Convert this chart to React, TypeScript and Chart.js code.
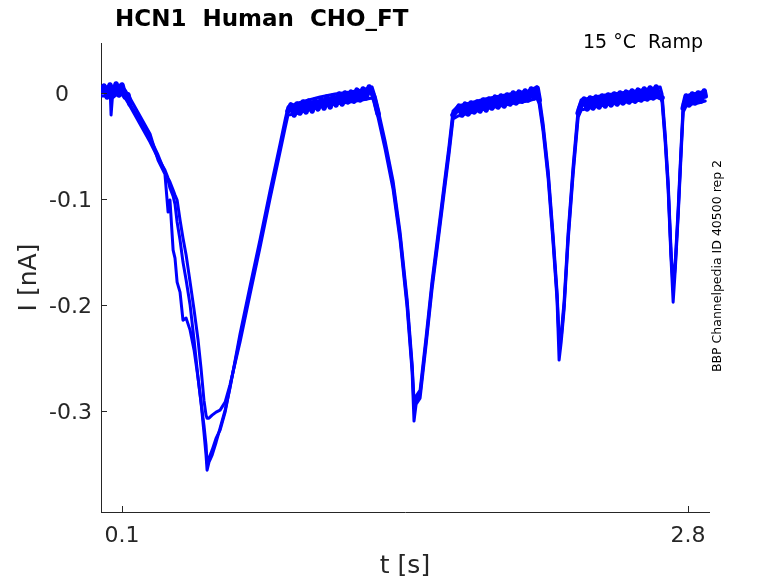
import React, { useEffect, useRef } from "react";
import { Chart, registerables } from "chart.js";

Chart.register(...registerables);

// time [s] for sweeps 1 and 3
const timesAC = [
  0.000, 0.024, 0.043, 0.048, 0.057, 0.091, 0.115, 0.138, 0.186, 0.234,
  0.272, 0.305, 0.320, 0.329, 0.344, 0.353, 0.363, 0.377, 0.391, 0.406,
  0.425, 0.444, 0.463, 0.477, 0.491, 0.501, 0.506, 0.515, 0.530, 0.549,
  0.568, 0.592, 0.615, 0.663, 0.711, 0.759, 0.806, 0.854, 0.878, 0.892,
  0.926, 0.973, 1.045, 1.116, 1.188, 1.245, 1.293, 1.302, 1.322, 1.355,
  1.393, 1.427, 1.460, 1.484, 1.493, 1.503, 1.522, 1.551, 1.579, 1.608,
  1.636, 1.660, 1.679, 1.703, 1.760, 1.832, 1.904, 1.975, 2.037, 2.080,
  2.090, 2.109, 2.133, 2.156, 2.175, 2.185, 2.195, 2.209, 2.228, 2.252,
  2.276, 2.290, 2.333, 2.405, 2.476, 2.548, 2.610, 2.667, 2.676, 2.691,
  2.705, 2.719, 2.729, 2.739, 2.753, 2.767, 2.777, 2.791, 2.820, 2.848,
  2.882,
];

// current [nA], sweep 1
const currentA = [
  0.0047, 0.0057, 0.0066, -0.0208, 0.0028, 0.0076, 0.0028, -0.0047, -0.0217, -0.0387,
  -0.0633, -0.0765, -0.1124, -0.1010, -0.1483, -0.1558, -0.1785, -0.1879, -0.2144, -0.2125,
  -0.2238, -0.2427, -0.2691, -0.2918, -0.3201, -0.3418, -0.3560, -0.3484, -0.3418, -0.3296,
  -0.3163, -0.2993, -0.2786, -0.2276, -0.1822, -0.1379, -0.0925, -0.0482, -0.0255, -0.0132,
  -0.0104, -0.0076, -0.0038, -0.0009, 0.0009, 0.0028, 0.0057, 0.0000, -0.0161, -0.0453,
  -0.0831, -0.1322, -0.1945, -0.2559, -0.2899, -0.2861, -0.2805, -0.2295, -0.1775, -0.1322,
  -0.0878, -0.0500, -0.0170, -0.0123, -0.0094, -0.0057, -0.0028, 0.0000, 0.0019, 0.0057,
  -0.0028, -0.0293, -0.0737, -0.1331, -0.1870, -0.2313, -0.2276, -0.1964, -0.1322, -0.0689,
  -0.0151, -0.0066, -0.0047, -0.0019, 0.0000, 0.0019, 0.0038, 0.0057, -0.0009, -0.0387,
  -0.0831, -0.1492, -0.1804, -0.1596, -0.1086, -0.0500, -0.0104, -0.0028, -0.0009, 0.0000,
  0.0019,
];

// current [nA], sweep 3
const currentC = [
  -0.0028, -0.0028, -0.0009, -0.0019, -0.0038, 0.0000, -0.0047, -0.0123, -0.0293, -0.0463,
  -0.0614, -0.0727, -0.0803, -0.0840, -0.0916, -0.0963, -0.1010, -0.1199, -0.1369, -0.1530,
  -0.1785, -0.2049, -0.2332, -0.2597, -0.2899, -0.3041, -0.3069, -0.3069, -0.3041, -0.3012,
  -0.2993, -0.2918, -0.2757, -0.2351, -0.1898, -0.1454, -0.1001, -0.0557, -0.0331, -0.0208,
  -0.0198, -0.0170, -0.0132, -0.0104, -0.0085, -0.0066, -0.0047, -0.0076, -0.0236, -0.0529,
  -0.0907, -0.1398, -0.2021, -0.2635, -0.3097, -0.2937, -0.2880, -0.2370, -0.1851, -0.1398,
  -0.0954, -0.0576, -0.0246, -0.0217, -0.0189, -0.0151, -0.0123, -0.0094, -0.0076, -0.0047,
  -0.0104, -0.0368, -0.0812, -0.1407, -0.1945, -0.2521, -0.2351, -0.2040, -0.1398, -0.0765,
  -0.0227, -0.0161, -0.0142, -0.0113, -0.0094, -0.0076, -0.0057, -0.0038, -0.0085, -0.0463,
  -0.0907, -0.1568, -0.1974, -0.1671, -0.1161, -0.0576, -0.0179, -0.0123, -0.0104, -0.0094,
  -0.0076,
];

// time [s] for sweep 2 (sampled more densely where it is noisy)
const timesB = [
  0.000, 0.014, 0.029, 0.043, 0.057, 0.072, 0.086, 0.100, 0.115, 0.129, 0.138,
  0.186, 0.234, 0.272, 0.305, 0.320, 0.329, 0.344, 0.353, 0.363, 0.377,
  0.391, 0.406, 0.425, 0.444, 0.463, 0.477, 0.491, 0.501, 0.506, 0.515,
  0.530, 0.549, 0.568, 0.592, 0.615, 0.663, 0.711, 0.759, 0.806, 0.854,
  0.878, 0.892,
  0.906, 0.921, 0.935, 0.949, 0.964, 0.978, 0.992, 1.007, 1.021, 1.035,
  1.050, 1.064, 1.078, 1.093, 1.107, 1.121, 1.136, 1.150, 1.164, 1.178,
  1.193, 1.207, 1.221, 1.236, 1.250, 1.264, 1.279, 1.293,
  1.302, 1.322, 1.355, 1.393, 1.427, 1.460, 1.484, 1.493, 1.503, 1.522,
  1.551, 1.579, 1.608, 1.636, 1.660, 1.679,
  1.694, 1.708, 1.722, 1.737, 1.751, 1.765, 1.780, 1.794, 1.808, 1.823,
  1.837, 1.851, 1.865, 1.880, 1.894, 1.908, 1.923, 1.937, 1.951, 1.966,
  1.980, 1.994, 2.009, 2.023, 2.037, 2.052, 2.066, 2.080,
  2.090, 2.109, 2.133, 2.156, 2.175, 2.185, 2.195, 2.209, 2.228, 2.252,
  2.276,
  2.290, 2.304, 2.319, 2.333, 2.347, 2.362, 2.376, 2.390, 2.405, 2.419,
  2.433, 2.448, 2.462, 2.476, 2.490, 2.505, 2.519, 2.533, 2.548, 2.562,
  2.576, 2.591, 2.605, 2.619, 2.634, 2.648, 2.662,
  2.676, 2.691, 2.705, 2.719, 2.729, 2.739, 2.753, 2.767,
  2.777, 2.791, 2.805, 2.820, 2.834, 2.848, 2.863, 2.877, 2.882,
];

// current [nA], sweep 2
const currentB = [
  0.0009, 0.0066, -0.0038, 0.0076, -0.0028, 0.0085, -0.0019, 0.0076, -0.0038, -0.0019, -0.0104,
  -0.0255, -0.0425, -0.0585, -0.0746, -0.0822, -0.0897, -0.0973, -0.1048, -0.1218, -0.1388,
  -0.1596, -0.1766, -0.2002, -0.2332, -0.2691, -0.2918, -0.3135, -0.3324, -0.3494, -0.3447,
  -0.3371, -0.3258, -0.3182, -0.3012, -0.2776, -0.2313, -0.1860, -0.1416, -0.0963, -0.0519,
  -0.0293, -0.0170,
  -0.0113, -0.0208, -0.0104, -0.0189, -0.0085, -0.0179, -0.0076, -0.0170, -0.0066, -0.0151,
  -0.0057, -0.0142, -0.0038, -0.0132, -0.0028, -0.0113, -0.0009, -0.0104, 0.0000, -0.0085,
  0.0009, -0.0076, 0.0028, -0.0066, 0.0038, -0.0047, 0.0057, 0.0000,
  -0.0038, -0.0198, -0.0491, -0.0869, -0.1360, -0.1983, -0.2597, -0.2946, -0.2899, -0.2842,
  -0.2332, -0.1813, -0.1360, -0.0916, -0.0538, -0.0208,
  -0.0170, -0.0123, -0.0208, -0.0104, -0.0198, -0.0094, -0.0179, -0.0085, -0.0170, -0.0066,
  -0.0161, -0.0057, -0.0142, -0.0038, -0.0132, -0.0028, -0.0123, -0.0019, -0.0104, 0.0000,
  -0.0094, 0.0009, -0.0076, 0.0019, -0.0066, 0.0038, -0.0047, 0.0047,
  -0.0066, -0.0331, -0.0774, -0.1369, -0.1907, -0.2351, -0.2313, -0.2002, -0.1360, -0.0727,
  -0.0189,
  -0.0113, -0.0057, -0.0151, -0.0047, -0.0142, -0.0038, -0.0132, -0.0028, -0.0123, -0.0019,
  -0.0113, -0.0009, -0.0104, 0.0000, -0.0094, 0.0009, -0.0085, 0.0019, -0.0076, 0.0028,
  -0.0066, 0.0038, -0.0057, 0.0047, -0.0047, 0.0057, -0.0038,
  -0.0047, -0.0425, -0.0869, -0.1530, -0.1841, -0.1634, -0.1124, -0.0538,
  -0.0142, -0.0028, -0.0113, -0.0009, -0.0094, 0.0000, -0.0076, 0.0019, -0.0028,
];

const xTickValues = [0.1, 2.8];
const xTickLabels = ["0.1", "2.8"];
const yTickValues = [0, -0.1, -0.2, -0.3];
const yTickLabels = ["0", "-0.1", "-0.2", "-0.3"];

const titleText = "HCN1  Human  CHO_FT";
const conditionText = "15 °C  Ramp";
const sideText = "BBP Channelpedia ID 40500 rep 2";
const xLabel = "t [s]";
const yLabel = "I [nA]";

const FONT = '"DejaVu Sans", sans-serif';
const AXIS_COLOR = "#262626";
const NOISE_LEVEL = -0.025; // above this the trace is a noisy near-zero band

const decorPlugin = {
  id: "decor",
  afterDraw(chart: any) {
    const { ctx, chartArea, scales } = chart;
    const xs = scales.x;
    const ys = scales.y;
    ctx.save();

    // inward ticks
    ctx.strokeStyle = AXIS_COLOR;
    ctx.lineWidth = 1;
    yTickValues.forEach((v) => {
      const y = Math.round(ys.getPixelForValue(v)) + 0.5;
      ctx.beginPath();
      ctx.moveTo(chartArea.left, y);
      ctx.lineTo(chartArea.left + 6, y);
      ctx.stroke();
    });
    xTickValues.forEach((v) => {
      const x = Math.round(xs.getPixelForValue(v)) + 0.5;
      ctx.beginPath();
      ctx.moveTo(x, chartArea.bottom);
      ctx.lineTo(x, chartArea.bottom - 6);
      ctx.stroke();
    });

    // tick labels
    ctx.fillStyle = AXIS_COLOR;
    ctx.font = `22px ${FONT}`;
    ctx.textBaseline = "alphabetic";
    ctx.textAlign = "right";
    yTickValues.forEach((v, i) => {
      const y = ys.getPixelForValue(v);
      const label = yTickLabels[i];
      const right = label === "0" ? chartArea.left - 32 : chartArea.left - 9;
      ctx.fillText(label, right, y + 8);
    });
    ctx.textAlign = "center";
    xTickValues.forEach((v, i) => {
      const x = xs.getPixelForValue(v);
      ctx.fillText(xTickLabels[i], x, chartArea.bottom + 30);
    });

    // axis labels
    ctx.font = `25px ${FONT}`;
    ctx.textAlign = "center";
    ctx.fillText(xLabel, (chartArea.left + chartArea.right) / 2, chartArea.bottom + 61);
    ctx.save();
    ctx.translate(36, (chartArea.top + chartArea.bottom) / 2);
    ctx.rotate(-Math.PI / 2);
    ctx.fillText(yLabel, 0, 0);
    ctx.restore();

    // title
    ctx.fillStyle = "#000000";
    ctx.font = `bold 23px ${FONT}`;
    ctx.textAlign = "left";
    ctx.fillText(titleText, 115, 26);

    // condition
    ctx.font = `19px ${FONT}`;
    ctx.textAlign = "right";
    ctx.fillText(conditionText, 703, 48);

    // side text
    ctx.font = `12.5px ${FONT}`;
    ctx.textAlign = "center";
    ctx.save();
    ctx.translate(721, 266);
    ctx.rotate(-Math.PI / 2);
    ctx.fillText(sideText, 0, 0);
    ctx.restore();

    ctx.restore();
  },
};

function makeSeries(times: number[], values: number[]) {
  return times.map((t, i) => ({ x: t, y: values[i] }));
}

export default function App() {
  const canvasRef = useRef<HTMLCanvasElement | null>(null);

  useEffect(() => {
    if (!canvasRef.current) return;
    const common = {
      borderColor: "#0000ff",
      borderWidth: 3,
      pointRadius: 0,
      fill: false,
      tension: 0,
      borderJoinStyle: "round" as const,
      borderCapStyle: "round" as const,
    };
    const chart = new Chart(canvasRef.current, {
      type: "line",
      data: {
        datasets: [
          { ...common, label: "sweep 1", data: makeSeries(timesAC, currentA) },
          {
            ...common,
            label: "sweep 2",
            data: makeSeries(timesB, currentB),
            segment: {
              borderWidth: (c: any) =>
                c.p0.parsed.y > NOISE_LEVEL && c.p1.parsed.y > NOISE_LEVEL ? 5.5 : 3,
            },
          },
          { ...common, label: "sweep 3", data: makeSeries(timesAC, currentC) },
        ],
      },
      options: {
        animation: false,
        responsive: false,
        devicePixelRatio: 1,
        layout: { padding: { top: 43, right: 69, left: 0, bottom: 0 } },
        plugins: {
          legend: { display: false },
          title: { display: false },
          tooltip: { enabled: false },
        },
        scales: {
          x: {
            type: "linear",
            min: 0,
            max: 2.9,
            grid: { display: false },
            border: { display: true, color: AXIS_COLOR, width: 1 },
            ticks: { display: false },
            afterFit: (scale: any) => {
              scale.height = 71;
            },
          },
          y: {
            type: "linear",
            min: -0.3955,
            max: 0.0472,
            grid: { display: false },
            border: { display: true, color: AXIS_COLOR, width: 1 },
            ticks: { display: false },
            afterFit: (scale: any) => {
              scale.width = 101;
            },
          },
        },
      },
      plugins: [decorPlugin],
    });
    return () => chart.destroy();
  }, []);

  return (
    <div
      style={{
        position: "fixed",
        left: 0,
        top: 0,
        width: 778,
        height: 583,
        background: "#ffffff",
      }}
    >
      <canvas ref={canvasRef} width={778} height={583} style={{ width: 778, height: 583 }} />
    </div>
  );
}
